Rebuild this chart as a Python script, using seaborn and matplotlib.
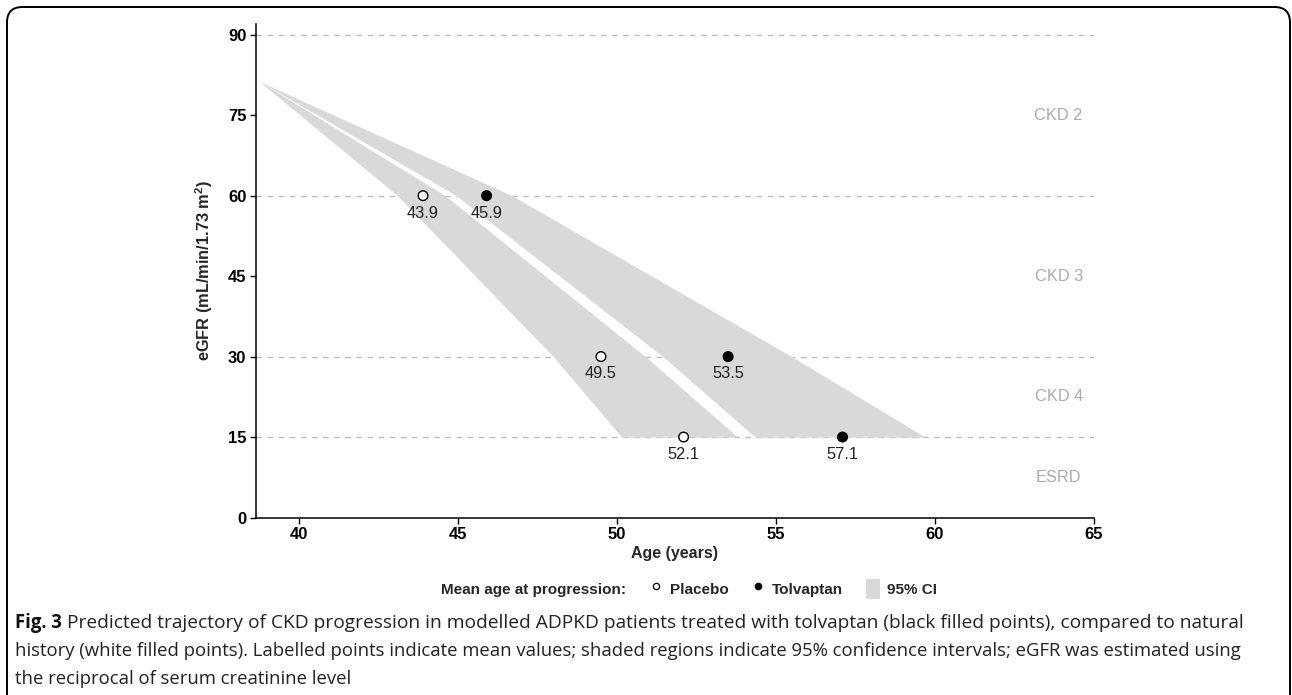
import numpy as np
import pandas as pd
import seaborn as sns
import matplotlib
matplotlib.use("Agg")
import matplotlib.pyplot as plt
from matplotlib.lines import Line2D
from matplotlib.patches import Patch, FancyBboxPatch

# ---- data -------------------------------------------------------------
start_age = 38.75
start_egfr = 81.3
thresholds = [60, 30, 15]

placebo_mean = [43.9, 49.5, 52.1]
tolvaptan_mean = [45.9, 53.5, 57.1]

placebo_ci_low = [43.1, 48.0, 50.15]
placebo_ci_high = [44.6, 50.9, 53.8]
tolvaptan_ci_low = [44.95, 51.45, 54.35]
tolvaptan_ci_high = [46.7, 55.5, 59.7]

ref_lines = [90, 60, 30, 15]
stage_names = ["CKD 2", "CKD 3", "CKD 4", "ESRD"]
stage_levels = [75, 45, 22.5, 7.5]

x_ticks = [40, 45, 50, 55, 60, 65]
y_ticks = [0, 15, 30, 45, 60, 75, 90]

caption_bold = "Fig. 3"
caption_lines = [
    "Predicted trajectory of CKD progression in modelled ADPKD patients treated with tolvaptan (black filled points), compared to natural",
    "history (white filled points). Labelled points indicate mean values; shaded regions indicate 95% confidence intervals; eGFR was estimated using",
    "the reciprocal of serum creatinine level",
]

# ---- style ------------------------------------------------------------
sns.set_theme(style="white")
plt.rcParams["font.family"] = ["Liberation Sans", "DejaVu Sans"]
plt.rcParams["mathtext.fontset"] = "custom"
plt.rcParams["mathtext.rm"] = "Liberation Sans"
plt.rcParams["mathtext.bf"] = "Liberation Sans:bold"

W, H = 1292, 695
fig = plt.figure(figsize=(W / 100, H / 100), dpi=100)
ax_left, ax_right, ax_top, ax_bottom = 255.5, 1093.6, 24, 517.5
ax = fig.add_axes([ax_left / W, 1 - ax_bottom / H,
                   (ax_right - ax_left) / W, (ax_bottom - ax_top) / H])

band_color = "#d9d9d9"
grey_line = "#bdbdbd"

# reference lines
for yv in ref_lines:
    ax.axhline(yv, color=grey_line, lw=1.0, ls=(0, (4, 4)), zorder=1)

# confidence bands
band_y = [start_egfr] + thresholds
for lo, hi in [(placebo_ci_low, placebo_ci_high),
               (tolvaptan_ci_low, tolvaptan_ci_high)]:
    ax.fill_betweenx(band_y, [start_age] + lo, [start_age] + hi,
                     color=band_color, lw=0, zorder=2)

# mean points
pts = pd.DataFrame({
    "age": placebo_mean + tolvaptan_mean,
    "egfr": thresholds + thresholds,
    "group": ["Placebo"] * 3 + ["Tolvaptan"] * 3,
})
sns.scatterplot(data=pts, x="age", y="egfr", hue="group",
                palette={"Placebo": "white", "Tolvaptan": "black"},
                edgecolor="black", linewidth=1.0, s=48, legend=False,
                ax=ax, zorder=4)
for a, e in zip(pts["age"], pts["egfr"]):
    ax.annotate(f"{a:.1f}", (a, e), xytext=(0, -12.5), textcoords="offset points",
                ha="center", va="center", fontsize=11.8, color="#222222", zorder=5)

# stage labels
for name, lvl in zip(stage_names, stage_levels):
    ax.text(63.9, lvl, name, ha="center", va="center", fontsize=11.8,
            color="#ababab", zorder=3)

ax.set_xlim(38.63, 65)
ax.set_ylim(0, 92)
ax.set_xticks(x_ticks)
ax.set_yticks(y_ticks)
ax.set_xticklabels([str(v) for v in x_ticks], fontsize=12, fontweight="bold")
ax.set_yticklabels([str(v) for v in y_ticks], fontsize=12, fontweight="bold")
ax.tick_params(axis="both", direction="out", length=4, width=1, color="black",
               pad=2.5, labelcolor="black", bottom=True, left=True)
for side in ["top", "right"]:
    ax.spines[side].set_visible(False)
for side in ["left", "bottom"]:
    ax.spines[side].set_color("black")
    ax.spines[side].set_linewidth(1.1)

ax.set_xlabel("Age (years)", fontsize=11.5, fontweight="bold", labelpad=3)
ax.set_ylabel(r"eGFR (mL/min/1.73 m$^{\mathbf{2}}$)", fontsize=11.8,
              fontweight="bold", labelpad=9)

# legend
handles = [
    Line2D([], [], ls="none", marker=None),
    Line2D([], [], ls="none", marker="o", markersize=4.5, markerfacecolor="white",
           markeredgecolor="black", markeredgewidth=0.9),
    Line2D([], [], ls="none", marker="o", markersize=4.5, markerfacecolor="black",
           markeredgecolor="black"),
    Patch(facecolor=band_color, edgecolor="none"),
]
labels = ["Mean age at progression:", "Placebo", "Tolvaptan", "95% CI"]
leg_y = 1 - 589 / H
leg = fig.legend(handles, labels, ncol=4, loc="center",
                 bbox_to_anchor=(674 / W, leg_y), frameon=False,
                 prop={"weight": "bold", "size": 11}, handlelength=0.9,
                 handleheight=1.7, handletextpad=0.45, columnspacing=1.5)
fig.canvas.draw()
renderer = fig.canvas.get_renderer()
title_x0 = leg.get_texts()[0].get_window_extent(renderer).x0
leg.set_bbox_to_anchor((674 / W + (441 - title_x0) / W, leg_y),
                       transform=fig.transFigure)

# caption
line_y = [623, 651, 679]
cap_x0 = 15
line_right = [1244, 1247, None]
base_fs = 12.5
fam = ["Open Sans", "DejaVu Sans"]


def text_width(s, size, weight="normal"):
    t = fig.text(0, 0, s, fontsize=size, family=fam, fontweight=weight)
    fig.canvas.draw()
    w = t.get_window_extent(renderer).width
    t.remove()
    return w


# body size set by the second caption line spanning the panel width
fs_body = base_fs * (line_right[1] - cap_x0) / text_width(caption_lines[1], base_fs)
bold_w = text_width(caption_bold, fs_body, "bold")
gap = 5
fs_first = fs_body * (line_right[0] - cap_x0 - bold_w - gap) / text_width(caption_lines[0], fs_body)

fig.text(cap_x0 / W, 1 - line_y[0] / H, caption_bold, fontsize=fs_body,
         fontweight="bold", family=fam, va="center", ha="left", color="#111111")
sizes = [fs_first, fs_body, fs_body]
for i, txt in enumerate(caption_lines):
    x0 = cap_x0 + bold_w + gap if i == 0 else cap_x0
    fig.text(x0 / W, 1 - line_y[i] / H, txt, fontsize=sizes[i],
             family=fam, va="center", ha="left", color="#222222")

# rounded panel frame
frame = FancyBboxPatch((7 / W, -20 / H), (1290 - 7) / W, (H - 7 + 20) / H,
                       boxstyle="round,pad=0,rounding_size=0.012",
                       transform=fig.transFigure, fill=False,
                       edgecolor="black", lw=1.4, mutation_aspect=W / H)
fig.patches.append(frame)

fig.savefig("out.png", dpi=100)
